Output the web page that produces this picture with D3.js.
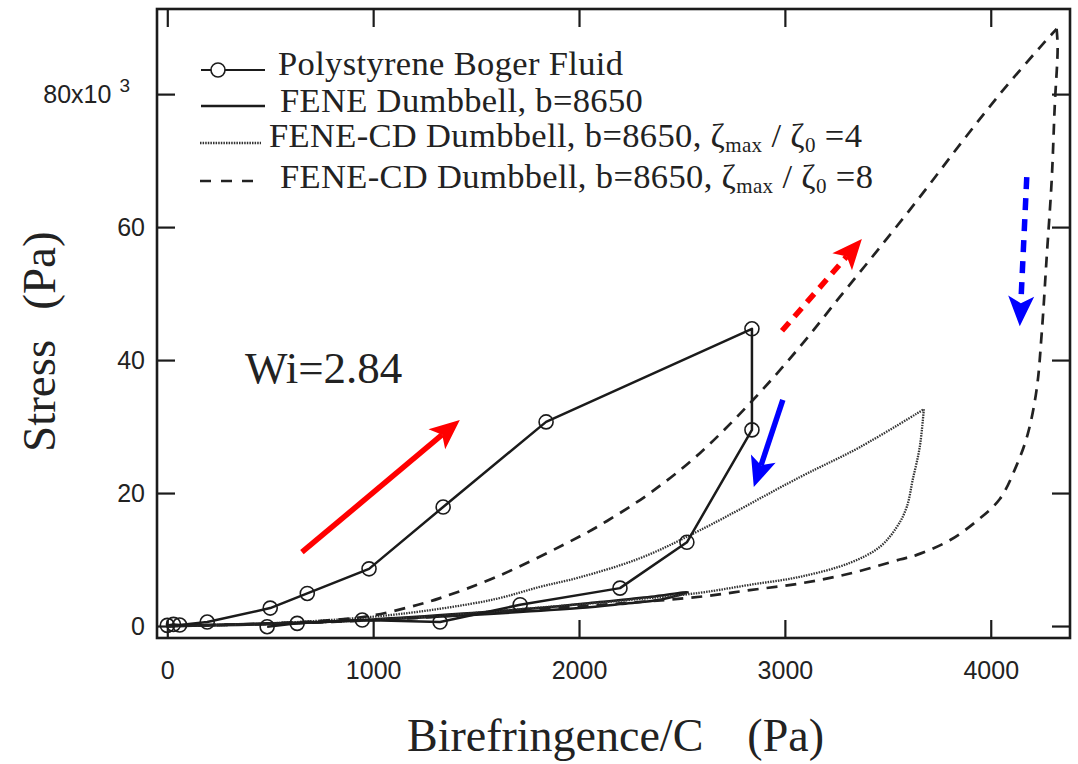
<!DOCTYPE html>
<html>
<head>
<meta charset="utf-8">
<script src="https://cdn.jsdelivr.net/npm/d3@7"></script>
<style>
  body { margin: 0; background: #fff; }
  svg { display: block; }
</style>
</head>
<body>
<svg id="chart" width="1078" height="764"></svg>
<script>
// Stress (10^3 Pa) versus birefringence/C (Pa), Wi = 2.84, start-up and relaxation

// Polystyrene Boger fluid measurements (loading, then relaxation)
const bogerX = [0, 30, 60, 194, 500, 680, 980, 1340, 1840, 2840, 2840, 2524, 2199, 1714, 1325, 947, 631, 485];
const bogerY = [0.1, 0.25, 0.15, 0.6, 2.7, 4.9, 8.6, 17.9, 30.7, 44.7, 29.5, 12.6, 5.7, 3.2, 0.6, 0.9, 0.4, -0.1];

// FENE dumbbell, b = 8650 (closed loop)
const feneX = [0, 500, 1000, 1500, 1800, 2100, 2350, 2529, 2400, 2200, 2000, 1500, 1000, 500, 0];
const feneY = [0, 0.4, 1.0, 2.0, 2.7, 3.6, 4.4, 5.1, 4.0, 3.3, 2.7, 1.7, 0.9, 0.3, 0];

// FENE-CD dumbbell, zeta_max / zeta_0 = 4
const cd4UpX = [0, 500, 1000, 1325, 1600, 1811, 2000, 2296, 2587, 3073, 3364, 3675];
const cd4UpY = [0, 0.4, 1.4, 2.6, 4.1, 5.9, 7.3, 10.2, 14.4, 22.4, 26.9, 32.6];
const cd4DownX = [3675, 3655, 3621, 3592, 3544, 3461, 3316, 3073, 2830, 2587, 2200, 1700, 1200, 600, 0];
const cd4DownY = [32.6, 26.9, 22.0, 17.9, 14.9, 11.9, 9.5, 7.4, 6.2, 5.0, 3.8, 2.5, 1.3, 0.4, 0];

// FENE-CD dumbbell, zeta_max / zeta_0 = 8
const cd8UpX = [0, 500, 800, 1000, 1218, 1325, 1600, 2005, 2136, 2345, 2587, 2845, 3073, 3267, 3450, 3655, 3850, 4044, 4238, 4320];
const cd8UpY = [0, 0.4, 0.9, 1.6, 3.2, 4.2, 7.4, 13.5, 15.8, 20.0, 26.0, 34.0, 42.0, 49.5, 56.5, 64.5, 72.4, 80.0, 87.0, 89.8];
const cd8DownX = [4320, 4325, 4311, 4296, 4272, 4248, 4223, 4180, 4126, 4044, 3932, 3801, 3641, 3558, 3316, 3073, 2830, 2587, 2200, 1700, 1200, 600, 0];
const cd8DownY = [89.8, 87.0, 78.3, 67.0, 55.6, 44.2, 35.6, 28.9, 24.2, 19.1, 15.8, 12.9, 10.7, 10.0, 7.9, 6.4, 5.4, 4.4, 3.4, 2.3, 1.2, 0.4, 0];

// Direction arrows (data coordinates): loading and relaxation
const arrowFromX = [654, 2986, 2990, 4175];
const arrowFromY = [11.1, 44.4, 34.0, 67.5];
const arrowToX = [1421, 3374, 2849, 4141];
const arrowToY = [31.0, 58.2, 20.9, 45.1];
const arrowKind = ["loadSolid", "loadDashed", "relaxSolid", "relaxDashed"];

// Axis ticks
const xTicks = [0, 1000, 2000, 3000, 4000];
const xTickLabels = ["0", "1000", "2000", "3000", "4000"];
const yTicks = [0, 20, 40, 60, 80];
const yTickLabels = ["0", "20", "40", "60", "80x10"];

const legendLabels = [
  "Polystyrene Boger Fluid",
  "FENE Dumbbell, b=8650",
  "FENE-CD Dumbbell, b=8650, ",
  "FENE-CD Dumbbell, b=8650, "
];
const legendRatios = ["4", "8"];

// ---------------------------------------------------------------
const svg = d3.select("#chart");
const frame = { left: 157, right: 1070, top: 9, bottom: 638 };
const serif = "'Liberation Serif', 'Times New Roman', serif";
const sans = "'Liberation Sans', Arial, sans-serif";
const ink = "#1b1b1b";

const x = d3.scaleLinear().domain([-50, 4385]).range([frame.left, frame.right]);
const y = d3.scaleLinear().domain([-1.8, 92.8]).range([frame.bottom, frame.top]);

const styles = {
  boger: { stroke: ink, width: 2.5, dash: null },
  fene: { stroke: ink, width: 2.5, dash: null },
  cd4: { stroke: "#333", width: 2.3, dash: "1.5 1.1" },
  cd8: { stroke: "#222", width: 2.7, dash: "11 8" }
};
const arrowStyles = {
  loadSolid: { color: "#ff0000", dash: null },
  loadDashed: { color: "#ff0000", dash: "11 8" },
  relaxSolid: { color: "#0000ff", dash: null },
  relaxDashed: { color: "#0000ff", dash: "12 9" }
};

const zip = (xs, ys) => xs.map((v, i) => [v, ys[i]]);
const smooth = d3.line().x(d => x(d[0])).y(d => y(d[1])).curve(d3.curveCatmullRom.alpha(0.5));
const straight = d3.line().x(d => x(d[0])).y(d => y(d[1]));

// Axes with inward ticks on all four sides
const tickLen = 18;
function styleAxis(g, withText) {
  g.select(".domain").remove();
  g.selectAll(".tick line").attr("stroke", ink).attr("stroke-width", 2.2);
  if (withText) {
    g.attr("font-family", sans).attr("font-size", 25);
    g.selectAll(".tick text").attr("fill", "#222");
  }
}

const gx = svg.append("g").attr("transform", `translate(0,${frame.bottom})`)
  .call(d3.axisBottom(x).tickValues(xTicks).tickFormat((d, i) => xTickLabels[i])
    .tickSizeInner(-tickLen).tickSizeOuter(0).tickPadding(23));
styleAxis(gx, true);

const gxTop = svg.append("g").attr("transform", `translate(0,${frame.top})`)
  .call(d3.axisTop(x).tickValues(xTicks).tickFormat(() => "")
    .tickSizeInner(-tickLen).tickSizeOuter(0));
styleAxis(gxTop, false);

const gy = svg.append("g").attr("transform", `translate(${frame.left},0)`)
  .call(d3.axisLeft(y).tickValues(yTicks).tickFormat((d, i) => yTickLabels[i])
    .tickSizeInner(-tickLen).tickSizeOuter(0).tickPadding(12));
styleAxis(gy, true);
// exponent on the top label
gy.selectAll(".tick text").filter(d => d === 80)
  .attr("x", -27)
  .append("tspan").attr("dx", 8).attr("dy", -11).attr("font-size", 19).text("3");

const gyRight = svg.append("g").attr("transform", `translate(${frame.right},0)`)
  .call(d3.axisRight(y).tickValues(yTicks).tickFormat(() => "")
    .tickSizeInner(-tickLen).tickSizeOuter(0));
styleAxis(gyRight, false);

svg.append("rect")
  .attr("x", frame.left).attr("y", frame.top)
  .attr("width", frame.right - frame.left).attr("height", frame.bottom - frame.top)
  .attr("fill", "none").attr("stroke", ink).attr("stroke-width", 2.6);

// Axis titles
svg.append("text")
  .attr("x", 407).attr("y", 751)
  .attr("font-family", serif).attr("font-size", 46).attr("fill", "#222")
  .call(t => {
    t.append("tspan").text("Birefringence/C");
    t.append("tspan").attr("dx", 44).text("(Pa)");
  });

svg.append("text")
  .attr("transform", "translate(55,452) rotate(-90)")
  .attr("font-family", serif).attr("font-size", 47).attr("fill", "#222")
  .call(t => {
    t.append("tspan").text("Stress");
    t.append("tspan").attr("dx", 30).text("(Pa)");
  });

// Curves
const plot = svg.append("g");
function drawPath(d, st, gen) {
  plot.append("path").attr("d", gen(d)).attr("fill", "none")
    .attr("stroke", st.stroke).attr("stroke-width", st.width)
    .attr("stroke-dasharray", st.dash).attr("stroke-linejoin", "round");
}
drawPath(zip(feneX, feneY), styles.fene, smooth);
drawPath(zip(cd4UpX, cd4UpY), styles.cd4, smooth);
drawPath(zip(cd4DownX, cd4DownY), styles.cd4, smooth);
drawPath(zip(cd8UpX, cd8UpY), styles.cd8, smooth);
drawPath(zip(cd8DownX, cd8DownY), styles.cd8, smooth);
drawPath(zip(bogerX, bogerY), styles.boger, straight);

plot.selectAll("circle.boger").data(zip(bogerX, bogerY)).join("circle")
  .attr("class", "boger")
  .attr("cx", d => x(d[0])).attr("cy", d => y(d[1])).attr("r", 7)
  .attr("fill", "none").attr("stroke", ink).attr("stroke-width", 1.6);

// Arrows
function arrow(x0, y0, x1, y1, st) {
  const dx = x1 - x0, dy = y1 - y0, L = Math.hypot(dx, dy);
  const ux = dx / L, uy = dy / L, px = -uy, py = ux;
  const headLen = 30, half = 13, notch = 7;
  const bx = x1 - ux * headLen, by = y1 - uy * headLen;
  const nx = bx + ux * notch, ny = by + uy * notch;
  plot.append("line")
    .attr("x1", x0).attr("y1", y0).attr("x2", nx).attr("y2", ny)
    .attr("stroke", st.color).attr("stroke-width", 5.5)
    .attr("stroke-dasharray", st.dash);
  plot.append("path")
    .attr("d", `M${x1},${y1}L${bx + px * half},${by + py * half}L${nx},${ny}L${bx - px * half},${by - py * half}Z`)
    .attr("fill", st.color);
}
arrowKind.forEach((k, i) => arrow(x(arrowFromX[i]), y(arrowFromY[i]), x(arrowToX[i]), y(arrowToY[i]), arrowStyles[k]));

// Annotation
svg.append("text").attr("x", 245).attr("y", 383)
  .attr("font-family", serif).attr("font-size", 45).attr("fill", "#222")
  .text("Wi=2.84");

// Legend
const legend = svg.append("g").attr("font-family", serif).attr("font-size", 34.5)
  .attr("letter-spacing", 0.35).attr("fill", "#222");
const rowBase = [75, 112, 147, 188];
const rowTextX = [278, 280, 269, 280];
const rowSymY = [70, 106, 143, 181];
const symX0 = 201, symX1 = 265;

// row 1: line with open circle
legend.append("line").attr("x1", symX0).attr("x2", symX1).attr("y1", rowSymY[0]).attr("y2", rowSymY[0])
  .attr("stroke", ink).attr("stroke-width", 2.2);
legend.append("circle").attr("cx", 218).attr("cy", rowSymY[0]).attr("r", 7)
  .attr("fill", "#fff").attr("stroke", ink).attr("stroke-width", 1.6);
// row 2: solid
legend.append("line").attr("x1", symX0).attr("x2", symX1).attr("y1", rowSymY[1]).attr("y2", rowSymY[1])
  .attr("stroke", styles.fene.stroke).attr("stroke-width", styles.fene.width);
// row 3: dotted
legend.append("line").attr("x1", symX0 - 1).attr("x2", symX1 - 4).attr("y1", rowSymY[2]).attr("y2", rowSymY[2])
  .attr("stroke", styles.cd4.stroke).attr("stroke-width", styles.cd4.width).attr("stroke-dasharray", styles.cd4.dash);
// row 4: dashed
legend.append("line").attr("x1", symX0 - 1).attr("x2", symX1 - 4).attr("y1", rowSymY[3]).attr("y2", rowSymY[3])
  .attr("stroke", styles.cd8.stroke).attr("stroke-width", styles.cd8.width).attr("stroke-dasharray", "11 10");

legendLabels.forEach((lab, i) => {
  const t = legend.append("text").attr("x", rowTextX[i]).attr("y", rowBase[i]);
  t.append("tspan").text(lab);
  if (i >= 2) {
    t.append("tspan").text("\u03B6");
    t.append("tspan").attr("font-size", 21).attr("dy", 5).text("max");
    t.append("tspan").attr("dy", -5).text(" / \u03B6");
    t.append("tspan").attr("font-size", 21).attr("dy", 5).text("0");
    t.append("tspan").attr("dy", -5).text(" =" + legendRatios[i - 2]);
  }
});
</script>
</body>
</html>
